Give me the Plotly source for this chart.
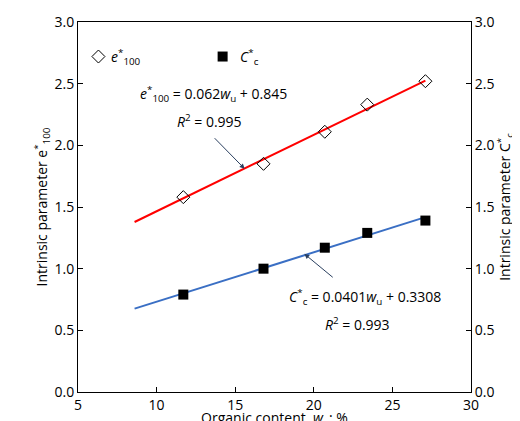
import plotly.graph_objects as go

wu = [11.7, 16.8, 20.7, 23.4, 27.1]
e100 = [1.58, 1.85, 2.11, 2.33, 2.52]
cc = [0.79, 1.00, 1.17, 1.29, 1.39]
fit_x = [8.6, 27.1]
e_fit = [0.062 * x + 0.845 for x in fit_x]
c_fit = [0.0401 * x + 0.3308 for x in fit_x]

fig = go.Figure()
fig.add_trace(go.Scatter(x=fit_x, y=e_fit, mode="lines", line=dict(color="#ff0000", width=2), showlegend=False))
fig.add_trace(go.Scatter(x=fit_x, y=c_fit, mode="lines", line=dict(color="#3a6fc4", width=2), showlegend=False))
fig.add_trace(go.Scatter(x=wu, y=e100, mode="markers", marker=dict(symbol="diamond-open", size=10, color="black", line=dict(width=1)), showlegend=False))
fig.add_trace(go.Scatter(x=wu, y=cc, mode="markers", marker=dict(symbol="square", size=10, color="black"), showlegend=False, yaxis="y2"))

f = dict(family="Open Sans, DejaVu Sans", size=14, color="black")
ax = dict(showgrid=False, zeroline=False, showline=True, linecolor="black", mirror=False, ticks="inside", ticklen=5, tickcolor="black", tickfont=f, automargin=False)
fig.update_layout(
    width=520, height=421, margin=dict(l=70, r=57, t=14, b=37),
    plot_bgcolor="white", paper_bgcolor="white", font=f,
    xaxis=dict(ax, range=[5, 30], dtick=5, mirror=True, title=dict(text="Organic content, <i>w</i><sub>u</sub>: %", font=f, standoff=3)),
    yaxis=dict(ax, range=[0, 3], dtick=0.5, tickformat=".1f", title=dict(text="Intrinsic parameter e<sup>*</sup><sub>100</sub>", font=f, standoff=3)),
    yaxis2=dict(ax, range=[0, 3], dtick=0.5, tickformat=".1f", overlaying="y", side="right", title=dict(text="Intrinsic parameter C<sup>*</sup><sub>c</sub>", font=f, standoff=3)),
)
fig.add_trace(go.Scatter(x=[6.3], y=[2.72], mode="markers", marker=dict(symbol="diamond-open", size=10, color="black", line=dict(width=1)), showlegend=False))
fig.add_trace(go.Scatter(x=[14.2], y=[2.72], mode="markers", marker=dict(symbol="square", size=10, color="black"), showlegend=False))
fig.add_annotation(x=7.0, y=2.72, text="<i>e</i><sup>*</sup><sub>100</sub>", showarrow=False, xanchor="left", font=f)
fig.add_annotation(x=15.2, y=2.72, text="<i>C</i><sup>*</sup><sub>c</sub>", showarrow=False, xanchor="left", font=f)
fig.add_annotation(x=8.8, y=2.42, text="<i>e</i><sup>*</sup><sub>100</sub> = 0.062<i>w</i><sub>u</sub> + 0.845", showarrow=False, xanchor="left", font=f)
fig.add_annotation(x=11.2, y=2.2, text="<i>R</i><sup>2</sup> = 0.995", showarrow=False, xanchor="left", font=f)
fig.add_annotation(x=18.3, y=0.77, text="<i>C</i><sup>*</sup><sub>c</sub> = 0.0401<i>w</i><sub>u</sub> + 0.3308", showarrow=False, xanchor="left", font=f)
fig.add_annotation(x=20.6, y=0.55, text="<i>R</i><sup>2</sup> = 0.993", showarrow=False, xanchor="left", font=f)
fig.add_annotation(x=15.6, y=1.81, ax=13.6, ay=2.07, xref="x", yref="y", axref="x", ayref="y", text="", showarrow=True, arrowhead=2, arrowsize=1, arrowwidth=1)
fig.add_annotation(x=19.4, y=1.12, ax=21.3, ay=0.92, xref="x", yref="y", axref="x", ayref="y", text="", showarrow=True, arrowhead=2, arrowsize=1, arrowwidth=1)
fig.write_html("out.html")
